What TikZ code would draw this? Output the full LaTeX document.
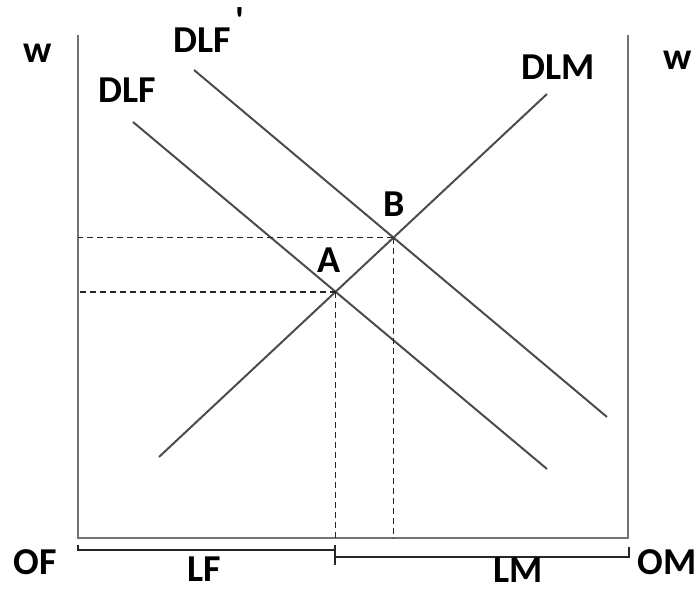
\documentclass[tikz,border=0pt]{standalone}
\usepackage{fontspec}
\setmainfont{Carlito}
\begin{document}
\begin{tikzpicture}[x=0.5pt, y=-0.5pt,
    lbl/.style={font=\fontsize{19}{22}\selectfont\bfseries, inner sep=0pt, anchor=base},
    axis/.style={draw=black!55, line width=1.4pt},
    demand/.style={draw=black!70, line width=1pt},
    guide/.style={draw=black!85, line width=0.8pt, dash pattern=on 3pt off 2pt},
    brace/.style={draw=black!85, line width=0.9pt}]
    \useasboundingbox (0,0) rectangle (698,592);

    % Box: OF axis, floor, OM axis
    \coordinate (ofy) at (78,35);
    \coordinate (of) at (78,538);
    \coordinate (om) at (628,538);
    \coordinate (omy) at (628,35);
    \draw[axis] (ofy) -- (of) -- (om) -- (omy);

    % Labour demand curves
    \coordinate (dlf1) at (133,122);
    \coordinate (dlf2) at (547,469);
    \coordinate (dlfp1) at (194,70);
    \coordinate (dlfp2) at (607,417);
    \coordinate (dlm1) at (159,457);
    \coordinate (dlm2) at (547,94);
    \draw[demand] (dlf1) -- (dlf2);
    \draw[demand] (dlfp1) -- (dlfp2);
    \draw[demand] (dlm1) -- (dlm2);

    % Equilibria
    \coordinate (A) at (intersection of dlf1--dlf2 and dlm1--dlm2);
    \coordinate (B) at (intersection of dlfp1--dlfp2 and dlm1--dlm2);
    \draw[guide] (A) -- (A -| of);
    \draw[guide] (A) -- (A |- of);
    \draw[guide] (B) -- (B -| of);
    \draw[guide] (B) -- (B |- of);

    % Brackets under the floor
    \coordinate (lf1) at (78,545);
    \coordinate (lf2) at (335,550);
    \coordinate (mid1) at (335,545);
    \coordinate (mid2) at (335,565);
    \coordinate (lm1) at (335,557);
    \coordinate (lm2) at (629,547);
    \draw[brace] (lf1) -- (lf1 |- lf2) -- (lf2);
    \draw[brace] (mid1) -- (mid2);
    \draw[brace] (lm1) -- (lm1 -| lm2) -- (lm2);

    % Labels
    \node[lbl] (wl) at (38,63) {w};
    \node[lbl] (wr) at (678,70) {w};
    \node[lbl, anchor=base west] (dlfp) at (173,53) {DLF\raisebox{0.5em}{\hspace{0.12em}\textquotesingle}};
    \node[lbl] (dlf) at (127,103) {DLF};
    \node[lbl] (dlm) at (558,80) {DLM};
    \node[lbl] (la) at (329,273) {A};
    \node[lbl] (lb) at (394,217) {B};
    \node[lbl] (lof) at (35,575) {OF};
    \node[lbl] (llf) at (204,582) {LF};
    \node[lbl] (llm) at (518,583) {LM};
    \node[lbl] (lom) at (667,575) {OM};
\end{tikzpicture}
\end{document}
